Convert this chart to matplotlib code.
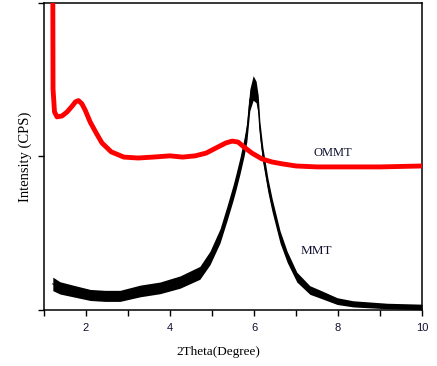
import matplotlib
matplotlib.use("Agg")
import matplotlib.pyplot as plt
import numpy as np

# OMMT curve (red), intensity in arbitrary units (0-100 axis)
ommt_x = [1.20, 1.215, 1.25, 1.31, 1.43, 1.55, 1.67, 1.75, 1.82, 1.90, 1.98, 2.10, 2.24, 2.38,
          2.60, 2.90, 3.24, 3.60, 4.00, 4.30, 4.60, 4.86, 5.10, 5.33, 5.48, 5.62, 5.76,
          5.95, 6.19, 6.43, 6.67, 7.00, 7.50, 8.00, 9.00, 10.0]
ommt_y = [160, 72.0, 64.5, 62.9, 63.2, 64.5, 66.4, 67.8, 68.2, 67.2, 65.1, 61.2, 57.7, 54.4,
          51.5, 49.8, 49.5, 49.8, 50.2, 49.8, 50.2, 51.1, 52.8, 54.4, 55.0, 54.7, 53.1,
          51.1, 49.2, 48.2, 47.6, 46.9, 46.6, 46.6, 46.6, 46.9]

# MMT curve (black): centre line and half width of the noise band
mmt_x = [1.21, 1.38, 1.69, 2.10, 2.45, 2.81, 3.29, 3.76, 4.24, 4.71, 4.95, 5.19, 5.36,
         5.50, 5.57, 5.67, 5.76, 5.83, 5.90, 5.98, 6.05, 6.10, 6.14, 6.21, 6.29, 6.33,
         6.43, 6.62, 6.79, 7.02, 7.33, 7.57, 7.98, 8.36, 9.17, 10.0]
mmt_y = [8.5, 7.2, 6.2, 4.9, 4.6, 4.6, 6.2, 7.2, 9.1, 12.1, 16.9, 24.1, 31.6,
         38.1, 41.7, 47.2, 52.8, 58.0, 68.4, 72.3, 71.0, 66.8, 58.6, 50.5, 44.0, 40.7,
         34.2, 23.8, 17.3, 10.7, 6.5, 5.2, 2.9, 2.0, 1.3, 1.0]
mmt_noise = [2.2, 2.0, 1.9, 1.8, 1.8, 1.8, 1.9, 1.9, 2.0, 2.1, 2.2, 2.3, 2.4,
             2.5, 2.6, 2.7, 2.9, 3.1, 3.5, 4.0, 3.5, 3.1, 2.8, 2.6, 2.4, 2.3,
             2.2, 2.0, 1.8, 1.6, 1.4, 1.3, 1.1, 1.0, 0.9, 0.9]

xticks_major = [2, 4, 6, 8, 10]
xticks_minor = [1, 3, 5, 7, 9]
yticks = [0, 50, 100]

plt.rcParams['font.family'] = ['Liberation Serif', 'DejaVu Serif']

fig = plt.figure(figsize=(4.37, 3.66), dpi=100)
ax = fig.add_axes([0.1007, 0.153, 0.865, 0.839])

mx = np.array(mmt_x)
my = np.array(mmt_y)
mn = np.array(mmt_noise)
ax.fill_between(mx, my - mn, my + mn, color='black', lw=0, zorder=2)
ax.plot(mx, my, color='black', lw=0.8, zorder=2)
ax.plot(ommt_x, ommt_y, color='#ff0000', lw=3.5, zorder=3, solid_joinstyle='round')

ax.text(7.88, 51.1, 'OMMT', fontsize=9, ha='center', va='center', color='#101030')
ax.text(7.48, 19.2, 'MMT', fontsize=9.5, ha='center', va='center', color='#101030')

ax.set_xlim(1, 10)
ax.set_ylim(0, 100)
ax.set_xticks(xticks_major)
ax.set_xticks(xticks_minor, minor=True)
ax.set_yticks(yticks)
ax.set_yticklabels([])
ax.tick_params(axis='both', which='both', direction='out', length=4, width=1.0)
ax.tick_params(axis='x', labelsize=8, pad=5, labelcolor='#101030')
for lab in ax.get_xticklabels():
    lab.set_family(['Liberation Sans', 'DejaVu Sans'])
for sp in ax.spines.values():
    sp.set_linewidth(1.1)

ax.set_ylabel('Intensity (CPS)', fontsize=10.5, labelpad=1)
fig.text(0.5, 1 - 352 / 366, '2Theta(Degree)', fontsize=9.5, ha='center', va='center')

fig.savefig('out.png', dpi=100)
